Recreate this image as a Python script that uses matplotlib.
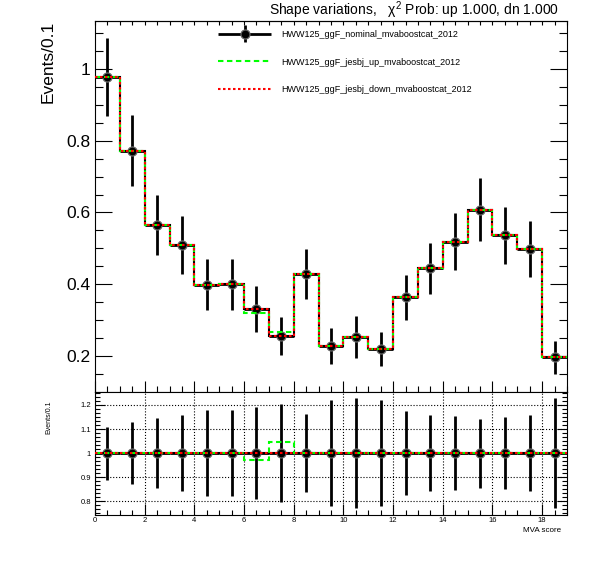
import numpy as np
import matplotlib.pyplot as plt
from matplotlib.ticker import MultipleLocator, AutoMinorLocator, FuncFormatter
from matplotlib.lines import Line2D
from matplotlib.legend_handler import HandlerErrorbar

plt.rcParams['font.family'] = ['Liberation Sans', 'DejaVu Sans']
plt.rcParams['mathtext.fontset'] = 'custom'
plt.rcParams['mathtext.rm'] = 'Liberation Sans'
plt.rcParams['mathtext.it'] = 'Liberation Sans:italic'

# histogram contents, bins of width 1 from 0 to 19
edges = np.arange(0, 20)
nominal = [0.978, 0.772, 0.565, 0.509, 0.398, 0.400, 0.331, 0.256, 0.428, 0.228,
           0.253, 0.219, 0.364, 0.444, 0.519, 0.608, 0.536, 0.497, 0.196]
nominal_err = [0.108, 0.099, 0.083, 0.080, 0.071, 0.071, 0.063, 0.052, 0.069, 0.050,
               0.058, 0.048, 0.063, 0.070, 0.079, 0.087, 0.080, 0.078, 0.045]
jes_up = [0.978, 0.772, 0.565, 0.509, 0.398, 0.400, 0.321, 0.268, 0.428, 0.228,
          0.253, 0.219, 0.364, 0.444, 0.519, 0.608, 0.536, 0.497, 0.196]
jes_down = [0.978, 0.772, 0.565, 0.509, 0.398, 0.400, 0.331, 0.256, 0.428, 0.228,
            0.253, 0.219, 0.364, 0.444, 0.519, 0.608, 0.536, 0.497, 0.196]

labels = ['HWW125_ggF_nominal_mvaboostcat_2012',
          'HWW125_ggF_jesbj_up_mvaboostcat_2012',
          'HWW125_ggF_jesbj_down_mvaboostcat_2012']
title = 'Shape variations,   \u03c7$^{2}$ Prob: up 1.000, dn 1.000'

nominal = np.array(nominal)
nominal_err = np.array(nominal_err)
jes_up = np.array(jes_up)
jes_down = np.array(jes_down)
centers = 0.5 * (edges[:-1] + edges[1:])

W, H = 596, 572
fig = plt.figure(figsize=(W/100, H/100), dpi=100)
ax = fig.add_axes([95/W, 1-391.7/H, 472/W, (391.7-20.7)/H])
rax = fig.add_axes([95/W, 1-515/H, 472/W, (515-391.7)/H])

green = '#00ff00'
red = '#ff0000'
up_dash = (0, (2.6, 1.7))
dn_dash = (0, (1.2, 1.2))
mk = dict(fmt='o', color='black', ms=6.5, mec='0.4', mew=0.9, elinewidth=2, capsize=0)

# top panel
eb = ax.errorbar(centers, nominal, yerr=nominal_err, xerr=0.5, zorder=2, **mk)
ax.stairs(nominal, edges, baseline=None, color='black', lw=1.5, zorder=3)
ax.stairs(jes_up, edges, baseline=None, color=green, lw=1.5, ls=up_dash, zorder=4)
ax.stairs(jes_down, edges, baseline=None, color=red, lw=1.5, ls=dn_dash, zorder=5)

ax.set_xlim(0, 19)
ax.set_ylim(0.1005, 1.1346)
ax.xaxis.set_major_locator(MultipleLocator(2))
ax.xaxis.set_minor_locator(MultipleLocator(0.5))
ax.yaxis.set_major_locator(MultipleLocator(0.2))
ax.yaxis.set_minor_locator(MultipleLocator(0.05))
ax.yaxis.set_major_formatter(FuncFormatter(lambda v, p: '%g' % round(v, 3)))
ax.tick_params(axis='x', which='both', direction='in', top=False, bottom=True, labelbottom=False)
ax.tick_params(axis='x', which='major', length=7.7, width=0.8)
ax.tick_params(axis='x', which='minor', length=4, width=0.8)
ax.tick_params(axis='y', which='both', direction='in', left=True, right=True, labelsize=12.5, pad=3)
ax.tick_params(axis='y', which='major', length=12, width=0.8)
ax.tick_params(axis='y', which='minor', length=6, width=0.8)
sec = ax.secondary_xaxis('top')
sec.xaxis.set_major_locator(MultipleLocator(0.5))
sec.tick_params(axis='x', direction='in', length=3, width=0.8, labeltop=False)

handles = [eb,
           Line2D([], [], color=green, lw=1.5, ls=up_dash),
           Line2D([], [], color=red, lw=1.5, ls=dn_dash)]
ax.legend(handles, labels, loc='upper left', bbox_to_anchor=(210/W, 1-22/H),
          bbox_transform=fig.transFigure, frameon=False, fontsize=6.5,
          handlelength=5.9, handletextpad=1.1, labelspacing=2.05,
          handler_map={type(eb): HandlerErrorbar(xerr_size=2.95, yerr_size=0.94)})

fig.text(559/W, 1-15/H, title, ha='right', va='baseline', fontsize=10)
fig.text(48/W, 1-20.7/H, 'Events/0.1', rotation=90, ha='center', va='top', fontsize=12.5)

# ratio panel
ratio_nom = nominal / nominal
ratio_err = nominal_err / nominal
ratio_up = jes_up / nominal
ratio_dn = jes_down / nominal
rax.errorbar(centers, ratio_nom, yerr=ratio_err, xerr=0.5, zorder=2, **mk)
rax.stairs(ratio_nom, edges, baseline=None, color='black', lw=1.5, zorder=3)
rax.stairs(ratio_up, edges, baseline=None, color=green, lw=1.5, ls=up_dash, zorder=4)
rax.stairs(ratio_dn, edges, baseline=None, color=red, lw=1.5, ls=dn_dash, zorder=5)

rax.set_xlim(0, 19)
rax.set_ylim(0.743, 1.255)
rax.xaxis.set_major_locator(MultipleLocator(2))
rax.xaxis.set_minor_locator(MultipleLocator(0.5))
rax.yaxis.set_major_locator(MultipleLocator(0.1))
rax.yaxis.set_minor_locator(AutoMinorLocator(6))
rax.yaxis.set_major_formatter(FuncFormatter(lambda v, p: '%g' % round(v, 3)))
rax.tick_params(axis='x', which='both', direction='in', top=False, bottom=True, labelsize=5.5, pad=1.5)
rax.tick_params(axis='x', which='major', length=8, width=0.8)
rax.tick_params(axis='x', which='minor', length=3.5, width=0.8)
rax.tick_params(axis='y', which='both', direction='in', left=True, right=True, labelsize=5.5, pad=3)
rax.tick_params(axis='y', which='major', length=7, width=0.8)
rax.tick_params(axis='y', which='minor', length=3.5, width=0.8)
rax.grid(True, which='major', color='black', ls=':', lw=0.8)
rax.set_axisbelow(True)

fig.text(48.5/W, 1-400.7/H, 'Events/0.1', rotation=90, ha='center', va='top', fontsize=5)
fig.text(561/W, 1-531/H, 'MVA score', ha='right', va='center', fontsize=5.8)

fig.savefig('out.png', dpi=100)
